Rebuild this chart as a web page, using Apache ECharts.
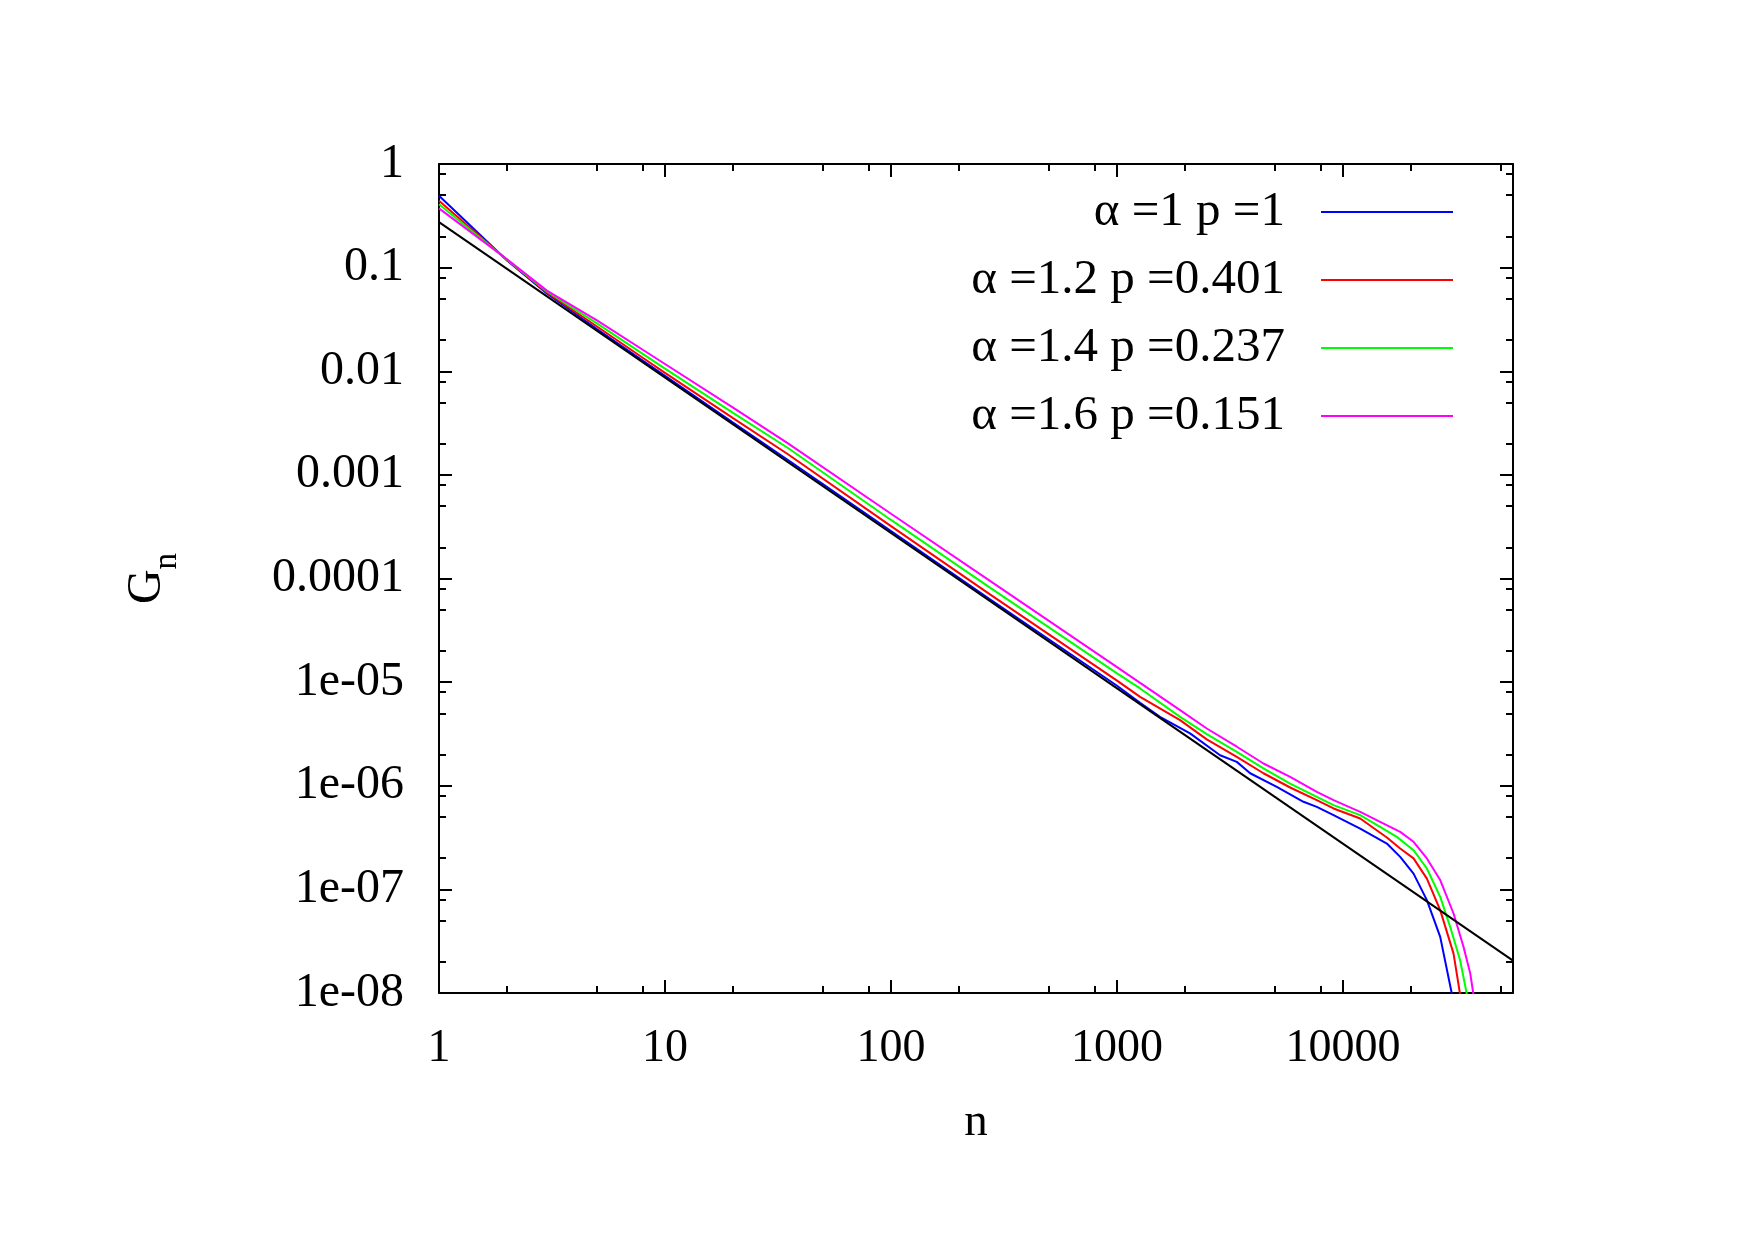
<!DOCTYPE html>
<html>
<head>
<meta charset="utf-8">
<script src="https://cdn.jsdelivr.net/npm/echarts@6/dist/echarts.min.js"></script>
<style>
  html, body { margin: 0; padding: 0; background: #fff; }
  #main { width: 1755px; height: 1240px; }
</style>
</head>
<body>
<div id="main"></div>
<script>
// G_n against n, log-log

const xMin = 1, xMax = 56500;
const yMin = 1e-8, yMax = 1;
const minorFactors = [2, 5, 8];

const seriesNames = ['α =1 p =1', 'α =1.2 p =0.401', 'α =1.4 p =0.237', 'α =1.6 p =0.151'];
const seriesColors = ['#0000ff', '#ff0000', '#00ff00', '#ff00ff'];

// α = 1
const blueN = [1, 2, 3, 5, 8, 10, 20, 35, 100, 270, 1000, 1265, 1549, 2104, 2858, 3388, 3882, 5093, 6683, 7656, 9078, 11912, 15631, 17906, 20512, 23496, 26915, 30339];
const blueG = [0.494, 0.1171, 0.05628, 0.02556, 0.0126, 0.009036, 0.003195, 0.001393, 2.871e-4, 6.442e-5, 9.226e-6, 6.31e-6, 4.62e-6, 3.2e-6, 1.97e-6, 1.7e-6, 1.32e-6, 9.77e-7, 7.0e-7, 6.25e-7, 5.2e-7, 3.86e-7, 2.77e-7, 2.06e-7, 1.42e-7, 7.87e-8, 3.48e-8, 9.7e-9];

// α = 1.2
const redN = [1, 2, 3, 5, 8, 10, 20, 35, 100, 270, 1000, 1265, 1901, 2495, 3388, 4446, 5834, 7656, 9078, 11912, 15631, 17906, 20512, 23496, 26915, 30832, 32961];
const redG = [0.443, 0.1184, 0.05759, 0.02701, 0.01341, 0.009661, 0.003535, 0.001581, 3.199e-4, 7.194e-5, 1.035e-5, 7.21e-6, 4.3e-6, 2.8e-6, 1.9e-6, 1.32e-6, 9.62e-7, 7.26e-7, 6.04e-7, 4.83e-7, 3.17e-7, 2.48e-7, 1.99e-7, 1.27e-7, 6.3e-8, 2.4e-8, 9.7e-9];

// α = 1.4
const greenN = [1, 2, 3, 5, 8, 10, 20, 35, 100, 270, 1000, 1265, 1901, 2495, 3388, 4446, 5834, 7656, 9078, 11912, 14588, 17298, 20512, 23496, 26915, 29785, 32961, 35318];
const greenG = [0.408, 0.1193, 0.0588, 0.02894, 0.01463, 0.01059, 0.003967, 0.001816, 3.673e-4, 8.356e-5, 1.216e-5, 8.69e-6, 4.62e-6, 3.15e-6, 2.12e-6, 1.47e-6, 1.05e-6, 7.82e-7, 6.5e-7, 5.2e-7, 4.01e-7, 3.21e-7, 2.39e-7, 1.59e-7, 8.47e-8, 4.35e-8, 2.07e-8, 9.7e-9];

// α = 1.6
const magentaN = [1, 2, 3, 5, 8, 10, 20, 35, 100, 270, 1000, 1265, 1901, 2495, 3388, 4446, 5834, 7656, 9078, 11912, 14588, 17906, 20512, 23496, 26915, 30832, 34119, 36559, 37757];
const magentaG = [0.373, 0.1204, 0.06003, 0.03101, 0.01604, 0.01175, 0.004451, 0.002014, 4.217e-4, 9.683e-5, 1.396e-5, 9.84e-6, 5.37e-6, 3.57e-6, 2.38e-6, 1.64e-6, 1.22e-6, 8.73e-7, 7.26e-7, 5.6e-7, 4.49e-7, 3.59e-7, 2.88e-7, 1.99e-7, 1.23e-7, 5.85e-8, 2.79e-8, 1.54e-8, 9.7e-9];

// straight power law (black)
const fitN = [1, 56500];
const fitG = [0.275, 2.05e-8];

const curvesN = [blueN, redN, greenN, magentaN];
const curvesG = [blueG, redG, greenG, magentaG];

const FONT = 'Liberation Serif';
const legendTops = [187, 255, 323, 391];

// minor ticks at 2,5,8 per decade, in log10 space
function minorLog(lo, hi) {
    let out = [];
    for (let k = Math.floor(lo); k < hi; k++) {
        minorFactors.forEach(f => {
            let v = k + Math.log10(f);
            if (v > lo && v < hi) out.push(v);
        });
    }
    return out;
}

// gnuplot style tick text
function gnuLabel(v) {
    let e = Math.round(Math.log10(v));
    if (e >= 0) return String(Math.round(v));
    if (e >= -4) return v.toFixed(-e);
    return '1e-' + String(-e).padStart(2, '0');
}

const lineStyle = { color: '#000', width: 2 };

function majorAxis(pos, showLabel, min, max, margin, fontSize) {
    return {
        type: 'log', logBase: 10, min: min, max: max, position: pos,
        axisLine: { show: true, onZero: false, lineStyle: lineStyle },
        axisTick: { show: true, inside: true, length: 13, lineStyle: lineStyle },
        splitLine: { show: false },
        axisLabel: {
            show: showLabel, formatter: gnuLabel, showMaxLabel: pos === 'bottom' ? false : true,
            fontFamily: FONT, fontSize: fontSize, color: '#000', margin: margin
        }
    };
}

function minorAxis(pos, lo, hi) {
    return {
        type: 'value', min: lo, max: hi, position: pos,
        axisLine: { show: false, onZero: false },
        axisTick: { show: true, inside: true, length: 7, lineStyle: lineStyle, customValues: minorLog(lo, hi) },
        splitLine: { show: false },
        axisLabel: { show: false }
    };
}

let xAxes = [
    majorAxis('bottom', true, xMin, xMax, 33, 46),
    majorAxis('top', false, xMin, xMax, 0, 46),
    minorAxis('bottom', 0, Math.log10(xMax)),
    minorAxis('top', 0, Math.log10(xMax))
];
xAxes[0].name = 'n';
xAxes[0].nameLocation = 'middle';
xAxes[0].nameGap = 106;
xAxes[0].nameTextStyle = { fontFamily: FONT, fontSize: 47, color: '#000' };

let yAxes = [
    majorAxis('left', true, yMin, yMax, 35, 48),
    majorAxis('right', false, yMin, yMax, 0, 48),
    minorAxis('left', -8, 0),
    minorAxis('right', -8, 0)
];
yAxes[0].name = '{g|G}{s|n}';
yAxes[0].nameLocation = 'middle';
yAxes[0].nameRotate = 90;
yAxes[0].nameGap = 268;
yAxes[0].nameTextStyle = {
    fontFamily: FONT, color: '#000',
    rich: {
        g: { fontFamily: FONT, fontSize: 48, lineHeight: 48, color: '#000', verticalAlign: 'top' },
        s: { fontFamily: FONT, fontSize: 33, lineHeight: 33, color: '#000', verticalAlign: 'top', padding: [28, 0, 0, 0] }
    }
};

let series = seriesNames.map((name, i) => ({
    name: name,
    type: 'line',
    xAxisIndex: 0, yAxisIndex: 0,
    showSymbol: false, symbol: 'none',
    clip: true,
    lineStyle: { color: seriesColors[i], width: 2 },
    itemStyle: { color: seriesColors[i] },
    data: curvesN[i].map((n, j) => [n, curvesG[i][j]])
}));
series.push({
    name: 'fit',
    type: 'line',
    xAxisIndex: 0, yAxisIndex: 0,
    showSymbol: false, symbol: 'none',
    clip: true,
    lineStyle: { color: '#000', width: 2 },
    data: fitN.map((n, j) => [n, fitG[j]])
});

let legends = seriesNames.map((name, i) => ({
    data: [name],
    right: 302, top: legendTops[i],
    orient: 'vertical', align: 'right',
    icon: 'rect', itemWidth: 132, itemHeight: 2,
    padding: 0, selectedMode: false,
    textStyle: { fontFamily: FONT, fontSize: 49, lineHeight: 50, color: '#000', padding: [0, 31, 0, 0] }
}));

let option = {
    backgroundColor: '#fff',
    animation: false,
    grid: { left: 439, right: 242, top: 164, bottom: 247, containLabel: false },
    legend: legends,
    xAxis: xAxes,
    yAxis: yAxes,
    series: series
};

window.echarts.init(document.getElementById('main')).setOption(option);
</script>
</body>
</html>
